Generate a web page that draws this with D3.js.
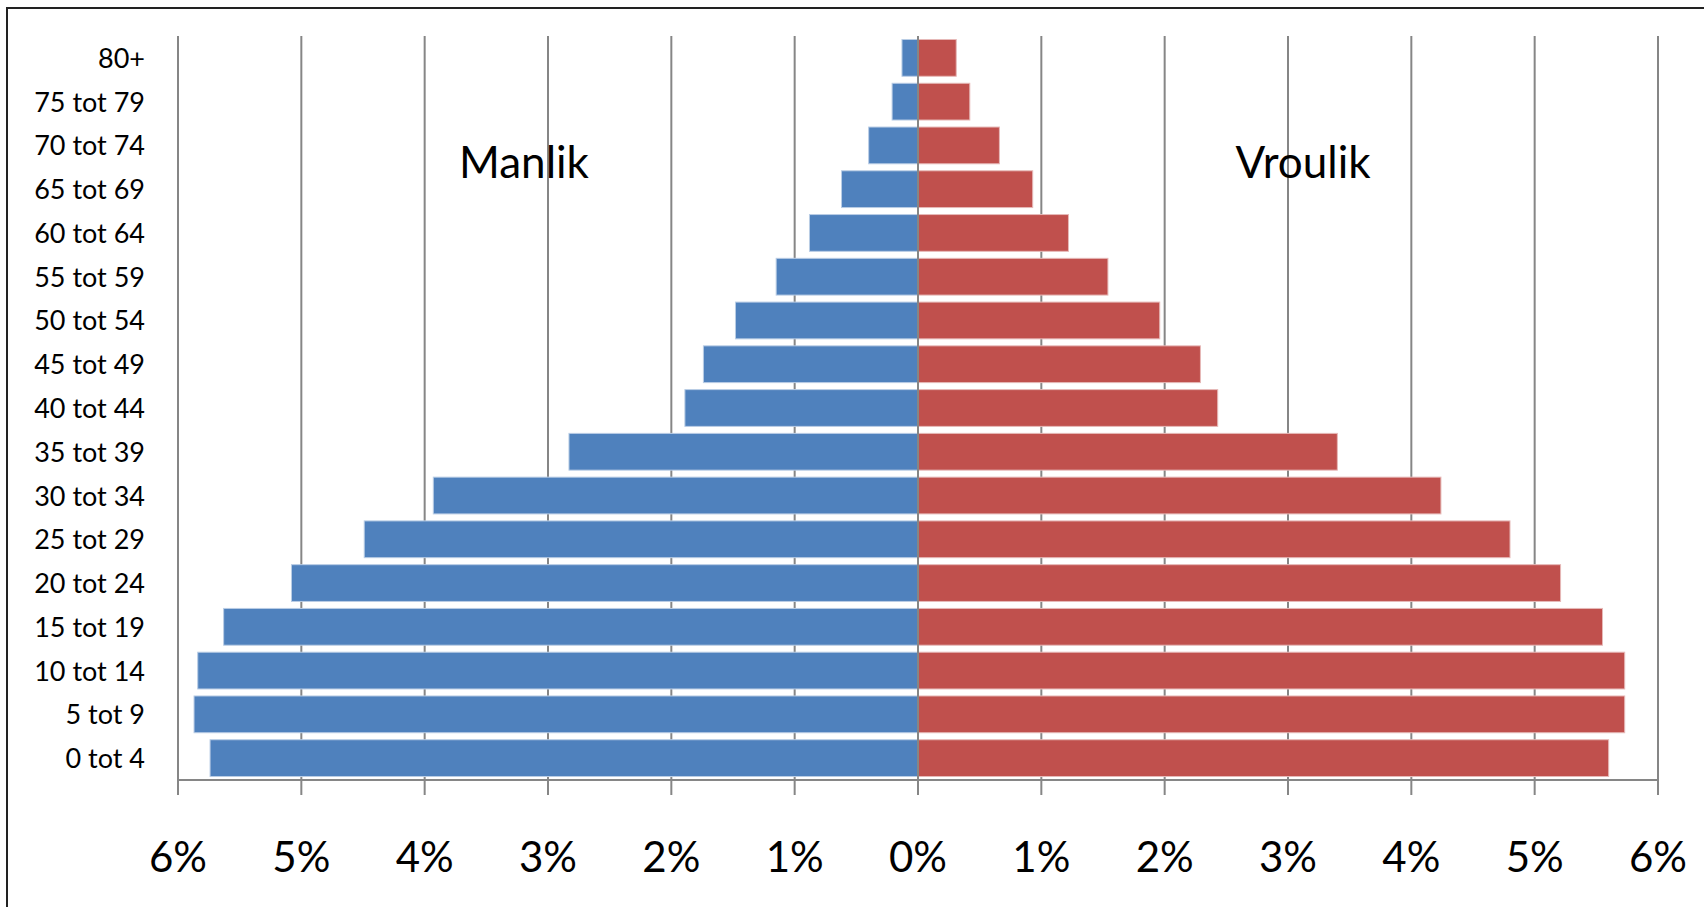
<!DOCTYPE html>
<html>
<head>
<meta charset="utf-8">
<script src="https://cdn.jsdelivr.net/npm/d3@7"></script>
<style>
  body { margin: 0; background: #fff; }
  svg { display: block; font-family: Lato, "Open Sans", sans-serif; }
</style>
</head>
<body>
<svg width="1704" height="907"></svg>
<script>
// age groups, top to bottom
var ageGroups = ["80+", "75 tot 79", "70 tot 74", "65 tot 69", "60 tot 64", "55 tot 59",
  "50 tot 54", "45 tot 49", "40 tot 44", "35 tot 39", "30 tot 34", "25 tot 29",
  "20 tot 24", "15 tot 19", "10 tot 14", "5 tot 9", "0 tot 4"];

// percent of population
var manlik = [0.13, 0.21, 0.40, 0.62, 0.88, 1.15, 1.48, 1.74, 1.89, 2.83, 3.93, 4.49,
  5.08, 5.63, 5.84, 5.87, 5.74];
var vroulik = [0.31, 0.42, 0.66, 0.93, 1.22, 1.54, 1.96, 2.29, 2.43, 3.40, 4.24, 4.80,
  5.21, 5.55, 5.73, 5.73, 5.60];

var tickValues = [-6, -5, -4, -3, -2, -1, 0, 1, 2, 3, 4, 5, 6];

var svg = d3.select("svg");

var plotLeft = 178, plotRight = 1658, plotTop = 36, plotBottom = 780;

var x = d3.scaleLinear().domain([-6, 6]).range([plotLeft, plotRight]);
var y = d3.scaleBand().domain(ageGroups).range([plotTop, plotBottom]).paddingInner(0.16).paddingOuter(0.08);

// outer frame
svg.append("rect")
  .attr("x", 7).attr("y", 8)
  .attr("width", 1760).attr("height", 960)
  .attr("fill", "none")
  .attr("stroke", "#222")
  .attr("stroke-width", 2);

// vertical gridlines (also the ticks below the axis)
svg.append("g")
  .selectAll("line")
  .data(tickValues.filter(function (d) { return d !== 0; }))
  .enter().append("line")
  .attr("x1", function (d) { return x(d); })
  .attr("x2", function (d) { return x(d); })
  .attr("y1", plotTop)
  .attr("y2", plotBottom + 15)
  .attr("stroke", "#868686")
  .attr("stroke-width", 2);

// bars
var bars = svg.append("g");
bars.selectAll("rect.m")
  .data(manlik)
  .enter().append("rect")
  .attr("class", "m")
  .attr("x", function (d) { return x(-d); })
  .attr("y", function (d, i) { return y(ageGroups[i]); })
  .attr("width", function (d) { return x(0) - x(-d); })
  .attr("height", y.bandwidth())
  .attr("fill", "#4f81bd")
  .attr("stroke", "#b9cde5")
  .attr("stroke-width", 1);

bars.selectAll("rect.v")
  .data(vroulik)
  .enter().append("rect")
  .attr("class", "v")
  .attr("x", x(0))
  .attr("y", function (d, i) { return y(ageGroups[i]); })
  .attr("width", function (d) { return x(d) - x(0); })
  .attr("height", y.bandwidth())
  .attr("fill", "#c0504d")
  .attr("stroke", "#e6b9b8")
  .attr("stroke-width", 1);

// axis lines: bottom and the 0% line on top of bars
svg.append("line")
  .attr("x1", plotLeft).attr("x2", plotRight)
  .attr("y1", plotBottom).attr("y2", plotBottom)
  .attr("stroke", "#868686").attr("stroke-width", 2);
svg.append("line")
  .attr("x1", x(0)).attr("x2", x(0))
  .attr("y1", plotTop).attr("y2", plotBottom + 15)
  .attr("stroke", "#868686").attr("stroke-width", 2);

// category labels
svg.append("g")
  .selectAll("text")
  .data(ageGroups)
  .enter().append("text")
  .attr("x", 145)
  .attr("y", function (d) { return y(d) + y.bandwidth() / 2; })
  .attr("dy", "0.37em")
  .attr("text-anchor", "end")
  .attr("font-size", 27)
  .attr("fill", "#000")
  .text(function (d) { return d; });

// x tick labels
svg.append("g")
  .selectAll("text")
  .data(tickValues)
  .enter().append("text")
  .attr("x", function (d) { return x(d); })
  .attr("y", 872)
  .attr("text-anchor", "middle")
  .attr("font-size", 42)
  .attr("fill", "#000")
  .text(function (d) { return Math.abs(d) + "%"; });

// series labels
svg.append("text")
  .attr("x", 524).attr("y", 178)
  .attr("text-anchor", "middle")
  .attr("font-size", 44)
  .text("Manlik");
svg.append("text")
  .attr("x", 1303).attr("y", 178)
  .attr("text-anchor", "middle")
  .attr("font-size", 44)
  .text("Vroulik");
</script>
</body>
</html>
